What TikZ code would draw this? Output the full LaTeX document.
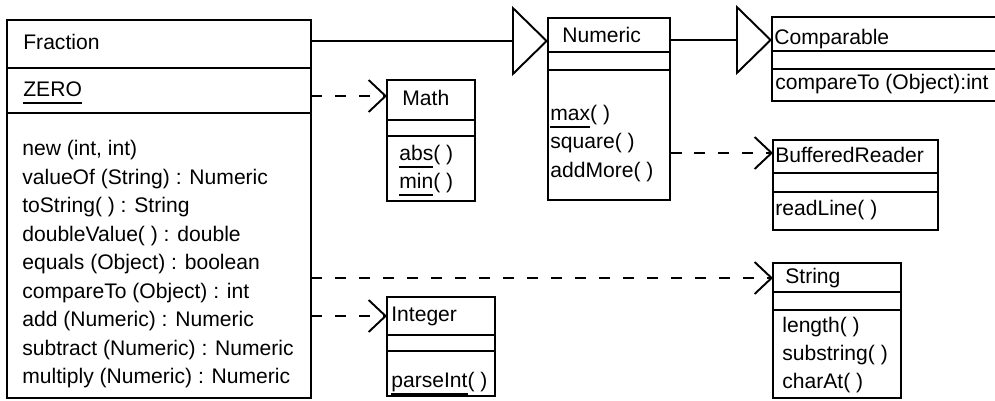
\documentclass[tikz,border=0pt]{standalone}
\usepackage{fontspec}
\setmainfont{Liberation Sans}
\usetikzlibrary{arrows.meta,
  calc,
  positioning
}
\newcommand*{\ulstatic}[1]{%
  \setbox0\hbox{#1}\rlap{\rule[-4pt]{\wd0}{1pt}}\box0}
\newcommand*{\umlclass}[6]{%
  \node[umlbox, minimum width={#3*0.02cm}, minimum height={#4*0.02cm}] (#1) at (#2) {};
  \draw[umlline] ([yshift={-#5*0.02cm}]#1.north west) -- ([yshift={-#5*0.02cm}]#1.north east);
  \draw[umlline] ([yshift={-#6*0.02cm}]#1.north west) -- ([yshift={-#6*0.02cm}]#1.north east);
}
\tikzset{
  umlline/.style={line width=1.1pt},
  umlbox/.style={draw, line width=1.1pt, inner sep=0pt, outer sep=0pt, anchor=north west},
  umltext/.style={anchor=west, inner sep=0pt, text height=8.6pt, text depth=2.3pt,
    font=\fontsize{12}{14}\selectfont},
  genline/.style={line width=1.1pt, -{Triangle[open, length=0.72cm, width=1.4cm]}},
  depline/.style={line width=1.1pt, dash pattern=on 0.23cm off 0.25cm,
    -{Straight Barb[length=0.34cm, width=0.64cm]}}
}

\begin{document}
\begin{tikzpicture}[x=0.02cm, y=-0.02cm]
  \clip (0,0) rectangle (995,400);

  % classes
  \umlclass{frac}{7,20}{304}{378}{48}{93}
  \umlclass{numeric}{548,18}{122}{182}{34}{52}
  \umlclass{comparable}{772,17}{260}{84}{34}{52}
  \umlclass{buffered}{773,140}{165}{90}{33}{52}
  \umlclass{math}{387,80}{88}{121}{40}{56}
  \umlclass{integer}{387,297}{108}{99}{38}{54}
  \umlclass{string}{773,263}{128}{135}{29}{47}

  \node[umltext] (frac-name) at (23,44) {Fraction};
  \node[umltext] (frac-zero) at (23,91) {\ulstatic{ZERO}};
  \foreach \m [count=\i] in {{new (int, int)}, valueOf (String) : Numeric,
    toString( ) : String, doubleValue( ) : double, equals (Object) : boolean,
    compareTo (Object) : int, add (Numeric) : Numeric,
    subtract (Numeric) : Numeric, multiply (Numeric) : Numeric}
    \node[umltext] (frac-m\i) at (22,{150+(\i-1)*28.5}) {\m};

  \node[umltext] (numeric-name) at (562,37) {Numeric};
  \node[umltext] (numeric-max) at (550,115) {\ulstatic{max}( )};
  \node[umltext] (numeric-square) at (550,143) {square( )};
  \node[umltext] (numeric-add) at (550,172) {addMore( )};

  \node[umltext] (comparable-name) at (774,39) {Comparable};
  \node[umltext] (comparable-cmp) at (775,84) {compareTo (Object):int};

  \node[umltext] (buffered-name) at (775,157) {BufferedReader};
  \node[umltext] (buffered-read) at (775,210) {readLine( )};

  \node[umltext] (math-name) at (402,100) {Math};
  \node[umltext] (math-abs) at (399,155) {\ulstatic{abs}( )};
  \node[umltext] (math-min) at (399,183) {\ulstatic{min}( )};

  \node[umltext] (integer-name) at (391,316) {Integer};
  \node[umltext] (integer-parse) at (391,382) {\ulstatic{parseInt}( )};

  \node[umltext] (string-name) at (785,278) {String};
  \node[umltext] (string-len) at (782,327) {length( )};
  \node[umltext] (string-sub) at (782,355) {substring( )};
  \node[umltext] (string-char) at (782,383) {charAt( )};

  % connectors
  \coordinate (numeric-in) at ([yshift=-23*0.02cm]numeric.north west);
  \coordinate (comparable-in) at ([yshift=-23*0.02cm]comparable.north west);
  \coordinate (math-in) at ([yshift=-16*0.02cm]math.north west);
  \coordinate (buffered-in) at ([yshift=-13*0.02cm]buffered.north west);
  \coordinate (string-in) at ([yshift=-15*0.02cm]string.north west);
  \coordinate (integer-in) at ([yshift=-19*0.02cm]integer.north west);

  \draw[genline] (frac.east |- numeric-in) -- (numeric-in);
  \draw[genline] (numeric.east |- comparable-in) -- (comparable-in);
  \draw[depline] (frac.east |- math-in) -- (math-in);
  \draw[depline] (numeric.east |- buffered-in) -- (buffered-in);
  \draw[depline] (frac.east |- string-in) -- (string-in);
  \draw[depline] (frac.east |- integer-in) -- (integer-in);
\end{tikzpicture}
\end{document}
